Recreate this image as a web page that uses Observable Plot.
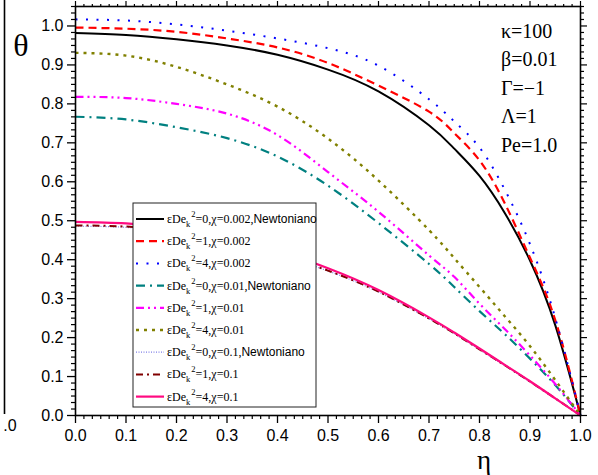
<!DOCTYPE html>
<html><head><meta charset="utf-8">
<script src="https://cdn.jsdelivr.net/npm/d3@7"></script>
<script src="https://cdn.jsdelivr.net/npm/@observablehq/plot@0.6"></script>
<style>body{margin:0;background:#fff}#chart{width:598px;height:475px}</style>
</head><body><div id="chart"></div>
<script>
// ---- data ----
const eta = [0, 0.1, 0.2, 0.3, 0.4, 0.5, 0.6, 0.7, 0.75, 0.8, 0.85, 0.9, 0.95, 1.0];
const thetaDe0Chi0002 = [0.982, 0.977, 0.966, 0.950, 0.926, 0.888, 0.832, 0.745, 0.685, 0.615, 0.520, 0.398, 0.232, 0];
const thetaDe1Chi0002 = [0.996, 0.993, 0.985, 0.968, 0.945, 0.905, 0.847, 0.780, 0.725, 0.655, 0.545, 0.405, 0.245, 0];
const thetaDe4Chi0002 = [1.017, 1.014, 1.004, 0.988, 0.968, 0.943, 0.898, 0.812, 0.755, 0.688, 0.580, 0.440, 0.250, 0];
const thetaDe0Chi001  = [0.767, 0.760, 0.740, 0.712, 0.665, 0.590, 0.494, 0.389, 0.330, 0.268, 0.209, 0.146, 0.078, 0];
const thetaDe1Chi001  = [0.818, 0.815, 0.800, 0.775, 0.720, 0.625, 0.523, 0.411, 0.356, 0.287, 0.222, 0.154, 0.081, 0];
const thetaDe4Chi001  = [0.931, 0.924, 0.895, 0.850, 0.793, 0.711, 0.603, 0.476, 0.404, 0.330, 0.255, 0.178, 0.091, 0];
const thetaDe0Chi01   = [0.486, 0.483, 0.470, 0.447, 0.414, 0.371, 0.317, 0.248, 0.210, 0.169, 0.128, 0.086, 0.043, 0];
const thetaDe1Chi01   = [0.488, 0.485, 0.472, 0.449, 0.416, 0.372, 0.318, 0.249, 0.211, 0.170, 0.129, 0.087, 0.044, 0];
const thetaDe4Chi01   = [0.497, 0.493, 0.480, 0.456, 0.423, 0.378, 0.322, 0.252, 0.213, 0.172, 0.130, 0.088, 0.044, 0];

const deLabels  = ["0", "1", "4", "0", "1", "4", "0", "1", "4"];
const chiLabels = ["0.002", "0.002", "0.002", "0.01", "0.01", "0.01", "0.1", "0.1", "0.1"];
const newtonian = [true, false, false, true, false, false, true, false, false];
const paramLabels = ["κ=100", "β=0.01", "Γ=−1", "Λ=1", "Pe=1.0"];
const xTickValues = [0, 0.1, 0.2, 0.3, 0.4, 0.5, 0.6, 0.7, 0.8, 0.9, 1.0];
const yTickValues = [0, 0.1, 0.2, 0.3, 0.4, 0.5, 0.6, 0.7, 0.8, 0.9, 1.0];

// ---- styles ----
const seriesValues = [thetaDe0Chi0002, thetaDe1Chi0002, thetaDe4Chi0002, thetaDe0Chi001, thetaDe1Chi001, thetaDe4Chi001, thetaDe0Chi01, thetaDe1Chi01, thetaDe4Chi01];
const colors = ["#000000", "#ff0000", "#0000ff", "#008080", "#ff00ff", "#808000", "#8080e8", "#800000", "#ff0a80"];
const dashes = [null, "8,5", "2,8.5", "9,5,2,5", "8,4,2,4,2,4", "3,5", "1,1.5", "7,4,2,4", null];
const widths = [2, 2.2, 2, 2.2, 2.2, 2.4, 1.2, 2, 2.2];

const rows = [];
seriesValues.forEach((vals, s) => vals.forEach((v, j) => rows.push({s, eta: eta[j], theta: v})));

const minorX = d3.range(0, 61).filter(i => i % 6 !== 0).map(i => i / 60);
const minorY = d3.range(0, 64).filter(i => i % 6 !== 0).map(i => i / 60).filter(v => v <= 1.05);
const blank = () => "";

const lineMarks = seriesValues.map((_, s) => Plot.line(rows.filter(d => d.s === s), {
  x: "eta", y: "theta", curve: "natural",
  stroke: colors[s], strokeWidth: widths[s], strokeDasharray: dashes[s] ?? undefined,
  strokeLinecap: "butt", strokeLinejoin: "round"
}));

const svg = Plot.plot({
  width: 598, height: 475,
  marginLeft: 75, marginRight: 18, marginTop: 6, marginBottom: 60,
  style: {fontFamily: "'Liberation Sans', Arial, sans-serif", fontSize: "16px", background: "#fff", color: "#000"},
  x: {domain: [0, 1]},
  y: {domain: [0, 1.05]},
  marks: [
    ...lineMarks,
    Plot.axisX({ticks: xTickValues, tickSize: 8, tickPadding: 6, tickFormat: d3.format(".1f"), fontSize: 16, label: null, strokeWidth: 1.3}),
    Plot.axisX({ticks: minorX, tickSize: 4, tickFormat: blank, label: null, strokeWidth: 1.2}),
    Plot.axisX({anchor: "top", ticks: xTickValues, tickSize: 6, tickFormat: blank, label: null, strokeWidth: 1.2}),
    Plot.axisX({anchor: "top", ticks: minorX, tickSize: 3, tickFormat: blank, label: null, strokeWidth: 1.2}),
    Plot.axisY({ticks: yTickValues, tickSize: 8, tickPadding: 4, tickFormat: d3.format(".1f"), fontSize: 16, label: null, strokeWidth: 1.3}),
    Plot.axisY({ticks: minorY, tickSize: 4, tickFormat: blank, label: null, strokeWidth: 1.2}),
    Plot.axisY({anchor: "right", ticks: yTickValues, tickSize: 6, tickFormat: blank, label: null, strokeWidth: 1.2}),
    Plot.axisY({anchor: "right", ticks: minorY, tickSize: 3, tickFormat: blank, label: null, strokeWidth: 1.2}),
    Plot.frame({stroke: "#000", strokeWidth: 1.6})
  ]
});

const g = d3.select(svg);
const serif = "'Liberation Serif', 'Times New Roman', serif";
const sans = "'Liberation Sans', Arial, sans-serif";

// fragment of neighbouring panel at the left edge
g.append("line").attr("x1", 4.5).attr("x2", 4.5).attr("y1", 0).attr("y2", 414).attr("stroke", "#000").attr("stroke-width", 1.6);
g.append("text").attr("x", 10).attr("y", 431).attr("text-anchor", "middle").attr("font-family", sans).attr("font-size", 16).text(".0");

// axis titles
g.append("text").attr("x", 21).attr("y", 56).attr("text-anchor", "middle").attr("font-family", serif).attr("font-size", 32).text("θ");
g.append("text").attr("x", 484).attr("y", 469).attr("text-anchor", "middle").attr("font-family", serif).attr("font-size", 27).text("η");

// parameter annotations
paramLabels.forEach((t, i) => {
  g.append("text").attr("x", 501).attr("y", 38 + i * 28.4).attr("text-anchor", "start")
    .attr("font-family", serif).attr("font-size", 20).text(t);
});

// legend
const lg = g.append("g");
lg.append("rect").attr("x", 133).attr("y", 203).attr("width", 183).attr("height", 204)
  .attr("fill", "#fff").attr("stroke", "#222").attr("stroke-width", 1);
deLabels.forEach((de, i) => {
  const y = 219 + i * 22.2;
  const ln = lg.append("line").attr("x1", 136).attr("x2", 164).attr("y1", y).attr("y2", y)
    .attr("stroke", colors[i]).attr("stroke-width", widths[i]);
  if (dashes[i]) ln.attr("stroke-dasharray", dashes[i]);
  const t = lg.append("text").attr("x", 167).attr("y", y + 4).attr("text-anchor", "start")
    .attr("font-family", serif).attr("font-size", 12);
  t.append("tspan").text("εDe");
  t.append("tspan").attr("font-size", 8.5).attr("dy", 4).text("k");
  t.append("tspan").attr("font-size", 8.5).attr("dy", -10).attr("dx", 1).text("2");
  t.append("tspan").attr("dy", 6).text("=" + de + ",χ=" + chiLabels[i] + (newtonian[i] ? "," : ""));
  if (newtonian[i]) t.append("tspan").attr("font-family", sans).text("Newtoniano");
});

document.getElementById("chart").appendChild(svg);
</script>
</body></html>
